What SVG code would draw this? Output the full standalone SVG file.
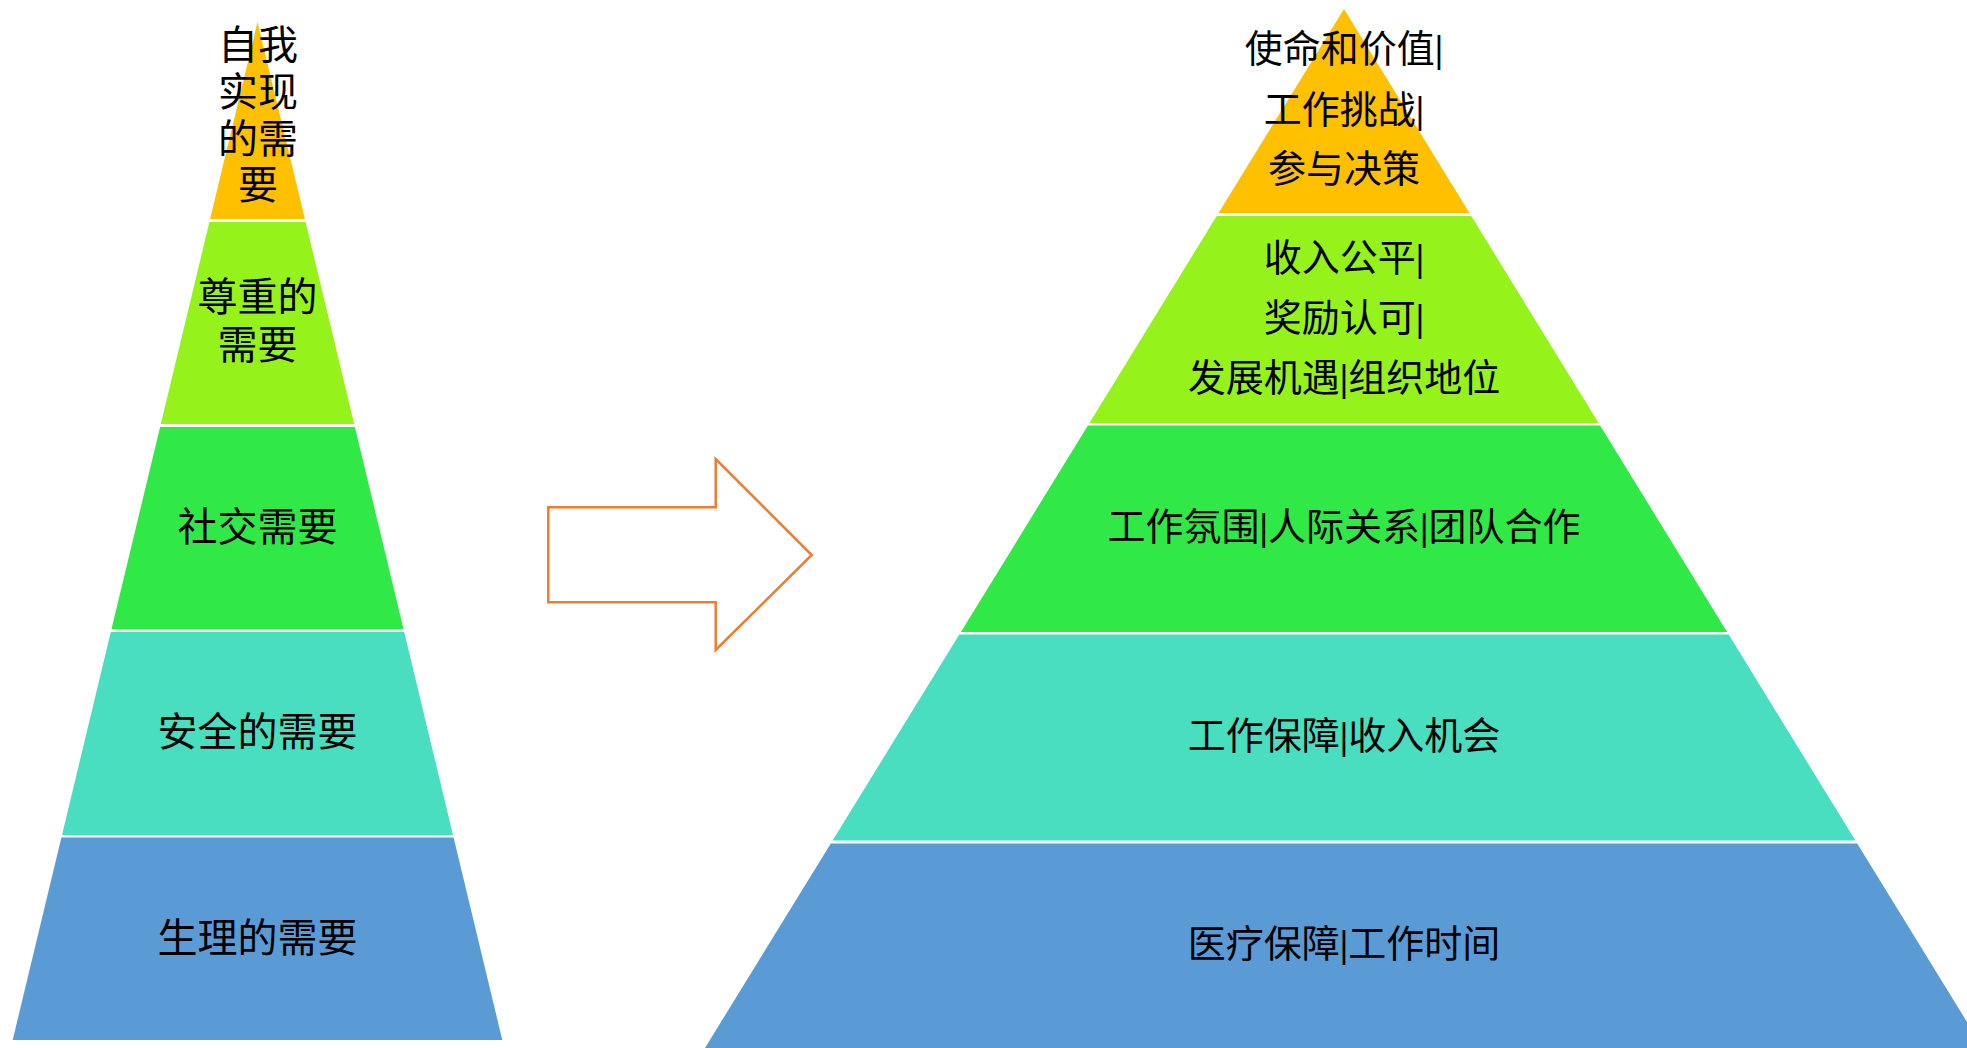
<svg xmlns="http://www.w3.org/2000/svg" width="1967" height="1048" viewBox="0 0 1967 1048">
  <style>
    .lbl { font-family: "Liberation Serif", "Noto Sans CJK SC", serif; fill: #000; text-anchor: middle; dominant-baseline: central; }
    .l { font-size: 40px; }
    .r { font-size: 38px; }
    .bar { font-weight: bold; }
    .c1 { fill: #FFC000; }
    .c2 { fill: #95F31B; }
    .c3 { fill: #30E946; }
    .c4 { fill: #48DEBF; }
    .c5 { fill: #5B9BD5; }
  </style>
  <rect width="1967" height="1048" fill="#FFFFFF"/>

  <!-- Left pyramid -->
  <g id="left-self-actualization">
    <polygon class="c1" points="257.5,22 304.9,219 210.1,219"/>
    <text class="lbl l" x="258" y="45.5">自我</text>
    <text class="lbl l" x="258" y="92.5">实现</text>
    <text class="lbl l" x="258" y="139">的需</text>
    <text class="lbl l" x="258" y="185.5">要</text>
  </g>
  <g id="left-esteem">
    <polygon class="c2" points="209.4,222 305.6,222 354.2,424 160.8,424"/>
    <text class="lbl l" x="257.5" y="297">尊重的</text>
    <text class="lbl l" x="257.5" y="345">需要</text>
  </g>
  <g id="left-social">
    <polygon class="c3" points="160.1,427 354.9,427 403.5,629 111.5,629"/>
    <text class="lbl l" x="257.5" y="527">社交需要</text>
  </g>
  <g id="left-safety">
    <polygon class="c4" points="110.8,632 404.2,632 453,835 62,835"/>
    <text class="lbl l" x="257.5" y="732.5">安全的需要</text>
  </g>
  <g id="left-physiological">
    <polygon class="c5" points="61.4,837.5 453.6,837.5 502.3,1040 12.7,1040"/>
    <text class="lbl l" x="257.5" y="938.5">生理的需要</text>
  </g>

  <!-- Connector: block arrow -->
  <g id="connectors">
    <polygon points="548.3,507.3 715.7,507.3 715.7,459 811.7,555 715.7,650 715.7,602.3 548.3,602.3" fill="#FFFFFF" stroke="#ED7D31" stroke-width="2.5" stroke-linejoin="miter"/>
  </g>

  <!-- Right pyramid -->
  <g id="right-level1">
    <polygon class="c1" points="1344,9 1469.5,213 1218.5,213"/>
    <text class="lbl r" x="1344" y="48.5">使命和价值<tspan class="bar">|</tspan></text>
    <text class="lbl r" x="1344" y="109.5">工作挑战<tspan class="bar">|</tspan></text>
    <text class="lbl r" x="1344" y="169">参与决策</text>
  </g>
  <g id="right-level2">
    <polygon class="c2" points="1216.7,216 1471.3,216 1598.6,423 1089.4,423"/>
    <text class="lbl r" x="1344" y="257.5">收入公平<tspan class="bar">|</tspan></text>
    <text class="lbl r" x="1344" y="318">奖励认可<tspan class="bar">|</tspan></text>
    <text class="lbl r" x="1344" y="378">发展机遇<tspan class="bar">|</tspan>组织地位</text>
  </g>
  <g id="right-level3">
    <polygon class="c3" points="1087.9,425.5 1600.1,425.5 1727.1,632 960.9,632"/>
    <text class="lbl r" x="1344" y="527">工作氛围<tspan class="bar">|</tspan>人际关系<tspan class="bar">|</tspan>团队合作</text>
  </g>
  <g id="right-level4">
    <polygon class="c4" points="959.3,634.5 1728.7,634.5 1855.4,840.5 832.6,840.5"/>
    <text class="lbl r" x="1344" y="735.5">工作保障<tspan class="bar">|</tspan>收入机会</text>
  </g>
  <g id="right-level5">
    <polygon class="c5" points="830.8,843.5 1857.2,843.5 1990.4,1060 697.6,1060"/>
    <text class="lbl r" x="1344" y="944">医疗保障<tspan class="bar">|</tspan>工作时间</text>
  </g>
</svg>
